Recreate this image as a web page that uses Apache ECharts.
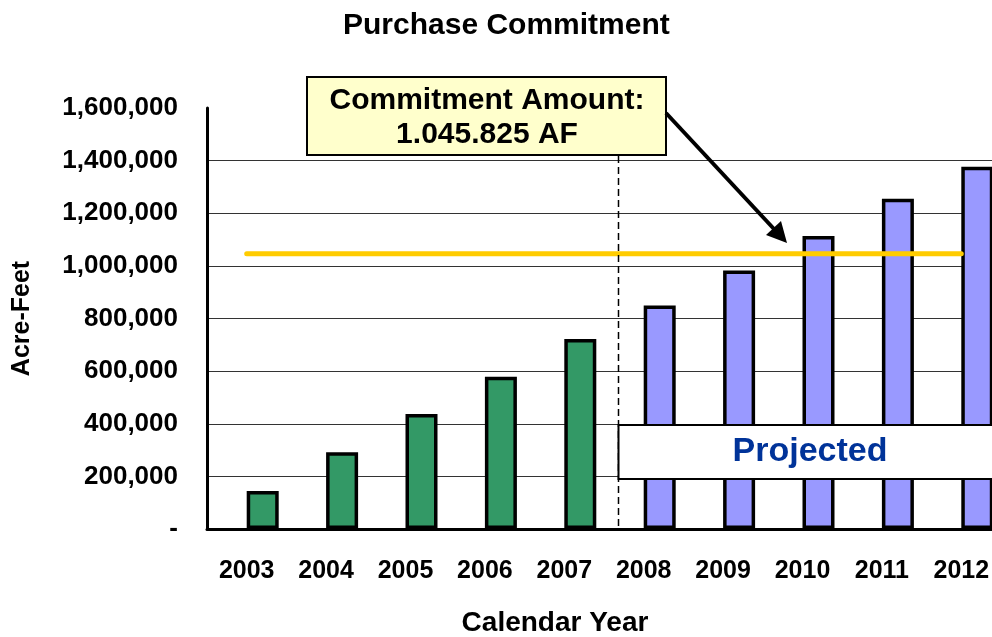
<!DOCTYPE html>
<html>
<head>
<meta charset="utf-8">
<script src="https://cdn.jsdelivr.net/npm/echarts@6/dist/echarts.min.js"></script>
<style>
html, body { margin: 0; padding: 0; background: #fff; }
#chart { width: 992px; height: 637px; }
</style>
</head>
<body>
<div id="chart"></div>
<script>
// data
var years = ['2003', '2004', '2005', '2006', '2007', '2008', '2009', '2010', '2011', '2012'];
var actual = [144000, 292000, 437000, 579000, 722000, null, null, null, null, null];
var projected = [null, null, null, null, null, 849000, 982000, 1114000, 1255000, 1377000];
var spacer = [null, null, null, null, null, null, null, null, null, null];
var commitment = 1045825;
var commitmentLine = years.map(function () { return commitment; });
var yMax = 1600000;
var yStep = 200000;

var FONT = '"Liberation Sans", Arial, sans-serif';
var chart = echarts.init(document.getElementById('chart'));

chart.setOption({
    animation: false,
    title: {
        text: 'Purchase Commitment',
        left: 338,
        top: 6,
        textStyle: { fontFamily: FONT, fontSize: 30, fontWeight: 'bold', color: '#000' }
    },
    // plot runs a little past the right edge, like the original
    grid: { left: 207, width: 794, top: 108, bottom: 108, outerBoundsMode: 'none', containLabel: false },
    xAxis: {
        type: 'category',
        data: years,
        axisLine: { lineStyle: { color: '#000', width: 3 } },
        axisTick: { show: false },
        axisLabel: { margin: 30, fontFamily: FONT, fontSize: 25, fontWeight: 'bold', color: '#000' }
    },
    yAxis: {
        type: 'value',
        min: 0,
        max: yMax,
        interval: yStep,
        name: 'Acre-Feet',
        nameLocation: 'middle',
        nameGap: 172,
        nameRotate: 90,
        nameTextStyle: { fontFamily: FONT, fontSize: 25, fontWeight: 'bold', color: '#000' },
        axisLine: { show: true, lineStyle: { color: '#000', width: 3 } },
        axisTick: { show: false },
        splitLine: { show: true, showMinLine: false, showMaxLine: false, lineStyle: { color: '#333', width: 1 } },
        axisLabel: {
            margin: 29,
            fontFamily: FONT, fontSize: 26, fontWeight: 'bold', color: '#000',
            formatter: function (v) {
                return v === 0 ? '-' : v.toLocaleString('en-US');
            }
        }
    },
    series: [
        {
            // empty slot so the bars sit right of each year label
            type: 'bar',
            stack: 'spacer',
            data: spacer,
            barWidth: 32,
            barGap: '0%'
        },
        {
            name: 'Actual',
            type: 'bar',
            stack: 'amount',
            data: actual,
            barWidth: 32,
            barGap: '0%',
            itemStyle: { color: '#339966', borderColor: '#000', borderWidth: 3.5 }
        },
        {
            name: 'Projected',
            type: 'bar',
            stack: 'amount',
            data: projected,
            barWidth: 32,
            barGap: '0%',
            itemStyle: { color: '#9999FF', borderColor: '#000', borderWidth: 3.5 }
        },
        {
            name: 'Commitment',
            type: 'line',
            data: commitmentLine,
            symbol: 'none',
            silent: true,
            z: 5,
            lineStyle: { color: '#FFCC00', width: 5, cap: 'round' }
        }
    ]
});

// annotations
var p4 = chart.convertToPixel({ xAxisIndex: 0 }, 4);
var p5 = chart.convertToPixel({ xAxisIndex: 0 }, 5);
var splitX = Math.round((p4 + p5) / 2 + 14) + 0.5;
var yBottom = chart.convertToPixel({ yAxisIndex: 0 }, 0);

chart.setOption({
    graphic: [
        {
            type: 'line',
            shape: { x1: splitX, y1: 156, x2: splitX, y2: yBottom },
            style: { stroke: '#000', lineWidth: 1.5, lineDash: [7, 4] },
            z: 10
        },
        {
            type: 'rect',
            shape: { x: splitX, y: 425, width: 400, height: 54 },
            style: { fill: '#fff', stroke: '#000', lineWidth: 2 },
            z: 20
        },
        {
            type: 'text',
            x: 810, y: 452,
            style: {
                text: 'Projected', align: 'center', verticalAlign: 'middle',
                font: 'bold 34px ' + FONT, fill: '#003399',
                textShadowColor: 'rgba(0,0,0,0.3)', textShadowOffsetX: 2, textShadowOffsetY: 2
            },
            z: 21
        },
        {
            type: 'rect',
            shape: { x: 307, y: 77, width: 359, height: 78 },
            style: { fill: '#FFFFCC', stroke: '#000', lineWidth: 2 },
            z: 20
        },
        {
            type: 'text',
            x: 487, y: 101,
            style: {
                text: 'Commitment Amount:', align: 'center', verticalAlign: 'middle',
                font: 'bold 30px ' + FONT, fill: '#000',
                textShadowColor: 'rgba(0,0,0,0.3)', textShadowOffsetX: 2, textShadowOffsetY: 2
            },
            z: 21
        },
        {
            type: 'text',
            x: 487, y: 135,
            style: {
                text: '1.045.825 AF', align: 'center', verticalAlign: 'middle',
                font: 'bold 30px ' + FONT, fill: '#000',
                textShadowColor: 'rgba(0,0,0,0.3)', textShadowOffsetX: 2, textShadowOffsetY: 2
            },
            z: 21
        },
        {
            type: 'line',
            shape: { x1: 666, y1: 113, x2: 774, y2: 229 },
            style: { stroke: '#000', lineWidth: 4 },
            z: 20
        },
        {
            type: 'polygon',
            shape: { points: [[787, 243], [766, 235], [781, 221]] },
            style: { fill: '#000' },
            z: 20
        },
        {
            type: 'text',
            x: 555, y: 623,
            style: {
                text: 'Calendar Year', align: 'center', verticalAlign: 'middle',
                font: 'bold 28px ' + FONT, fill: '#000'
            }
        }
    ]
});
</script>
</body>
</html>
